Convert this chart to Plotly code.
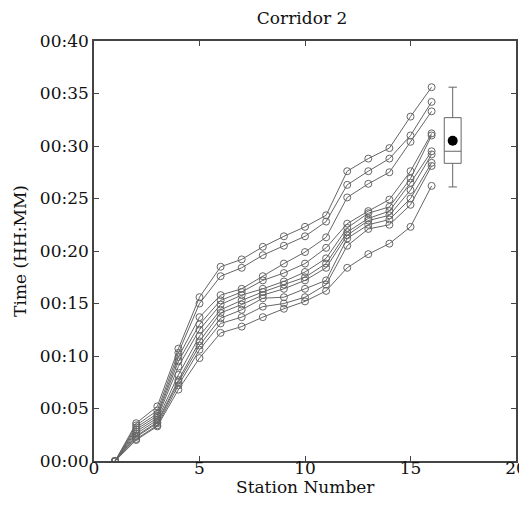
import plotly.graph_objects as go

stations = list(range(1, 17))

# Travel times (minutes) for each run along Corridor 2
run_1 = [0, 3.6, 5.2, 10.7, 15.6, 18.5, 19.2, 20.4, 21.4, 22.3, 23.4, 27.6, 28.8, 29.8, 32.8, 35.6]
run_2 = [0, 3.4, 4.8, 10.3, 15.0, 17.6, 18.4, 19.6, 20.5, 21.4, 22.8, 26.3, 27.6, 28.8, 31.0, 34.2]
run_3 = [0, 3.2, 4.5, 9.9, 13.7, 15.8, 16.4, 17.6, 18.8, 19.9, 21.3, 25.1, 26.4, 27.5, 30.4, 33.3]
run_4 = [0, 3.0, 4.3, 9.5, 13.0, 15.3, 16.1, 17.2, 17.9, 18.8, 20.3, 22.6, 23.8, 24.9, 27.6, 31.2]
run_5 = [0, 2.8, 4.1, 9.0, 12.5, 14.9, 15.8, 16.4, 17.1, 18.0, 19.3, 22.2, 23.6, 24.2, 26.9, 31.0]
run_6 = [0, 2.6, 3.9, 8.2, 11.9, 14.4, 15.3, 16.1, 16.8, 17.5, 18.8, 21.8, 23.1, 23.8, 26.5, 29.5]
run_7 = [0, 2.4, 3.7, 7.7, 11.4, 14.1, 14.9, 15.8, 16.4, 17.2, 18.4, 21.5, 22.9, 23.4, 25.8, 29.2]
run_8 = [0, 2.3, 3.6, 7.5, 11.0, 13.6, 14.4, 15.5, 15.6, 16.4, 17.2, 21.2, 22.5, 23.0, 25.0, 28.4]
run_9 = [0, 2.1, 3.4, 7.2, 10.6, 13.1, 13.7, 14.7, 15.0, 15.6, 16.8, 20.5, 22.1, 22.5, 24.4, 28.1]
run_10 = [0, 2.0, 3.3, 6.8, 9.8, 12.2, 12.8, 13.7, 14.5, 15.2, 16.2, 18.4, 19.7, 20.7, 22.3, 26.2]
runs = [run_1, run_2, run_3, run_4, run_5, run_6, run_7, run_8, run_9, run_10]

# Summary box of the end-to-end time
box_x = [17]
box_low = [26.1]
box_q1 = [28.35]
box_median = [29.5]
box_q3 = [32.7]
box_high = [35.6]
box_mean = [30.5]

y_tickvals = [0, 5, 10, 15, 20, 25, 30, 35, 40]
y_ticktext = ["00:00", "00:05", "00:10", "00:15", "00:20", "00:25", "00:30", "00:35", "00:40"]
x_tickvals = [0, 5, 10, 15, 20]

fig = go.Figure()
for r in runs:
    fig.add_trace(go.Scatter(
        x=stations, y=r, mode="lines+markers",
        line=dict(color="#666666", width=1),
        marker=dict(symbol="circle-open", size=7, color="#666666", line=dict(width=1)),
        showlegend=False, hoverinfo="skip"))

fig.add_trace(go.Box(
    x=box_x, q1=box_q1, median=box_median, q3=box_q3,
    lowerfence=box_low, upperfence=box_high,
    width=0.8, whiskerwidth=0.5, fillcolor="white",
    line=dict(color="#666666", width=1), showlegend=False, boxpoints=False))
fig.add_trace(go.Scatter(
    x=box_x, y=box_mean, mode="markers",
    marker=dict(symbol="circle", size=10, color="black"), showlegend=False))

font = dict(family="DejaVu Serif", size=17, color="#111")
fig.update_layout(
    width=527, height=508,
    margin=dict(l=86, r=19, t=33, b=55),
    paper_bgcolor="white", plot_bgcolor="white",
    font=font,
    title=dict(text="Corridor 2", x=0.558, xanchor="center", y=0.98, yanchor="middle",
               font=font),
    annotations=[dict(text="Station Number", xref="paper", yref="paper",
                      x=0.5, y=-0.063, xanchor="center", yanchor="middle",
                      showarrow=False, font=font)],
)
fig.update_xaxes(
    range=[0, 20], tickvals=x_tickvals, ticks="inside", ticklen=5,
    showline=True, linecolor="#444", linewidth=1.5, mirror="ticks",
    showgrid=False, zeroline=False, ticklabelstandoff=-9, automargin=False)
fig.update_yaxes(
    range=[0, 40], tickvals=y_tickvals, ticktext=y_ticktext, ticks="inside", ticklen=5,
    showline=True, linecolor="#444", linewidth=1.5, mirror="ticks",
    showgrid=False, zeroline=False, automargin=False,
    title=dict(text="Time (HH:MM)", standoff=9, font=font))

fig.write_html("out.html")
